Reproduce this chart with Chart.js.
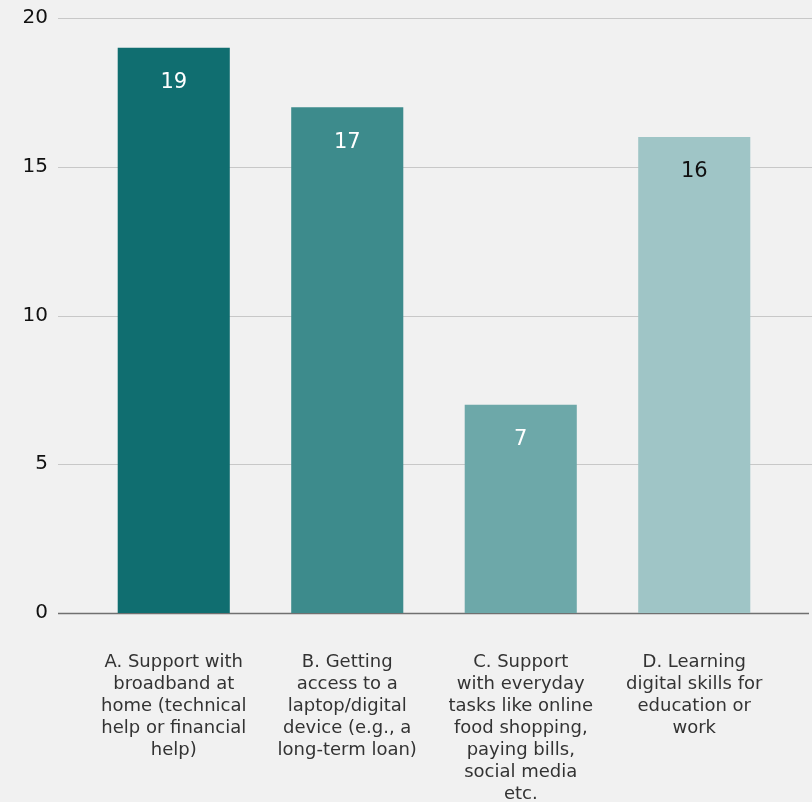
<!DOCTYPE html>
<html>
<head>
<meta charset="utf-8">
<script src="https://cdn.jsdelivr.net/npm/chart.js@4"></script>
<style>
html,body{margin:0;padding:0;background:#f1f1f1;}
#wrap{width:812px;height:802px;position:relative;}
</style>
</head>
<body>
<div id="wrap"><canvas id="c" width="812" height="802"></canvas></div>
<script>
const categories = [
  ["A. Support with","broadband at","home (technical","help or financial","help)"],
  ["B. Getting","access to a","laptop/digital","device (e.g., a","long-term loan)"],
  ["C. Support","with everyday","tasks like online","food shopping,","paying bills,","social media","etc."],
  ["D. Learning","digital skills for","education or","work"]
];
const values = [19, 17, 7, 16];
const barColors = ["#106e70", "#3d8b8c", "#6da8a9", "#9fc5c6"];
const labelColors = ["#ffffff", "#ffffff", "#ffffff", "#111111"];
const yTicks = [0, 5, 10, 15, 20];

const FONT = '"DejaVu Sans", sans-serif';

const gridPlugin = {
  id: 'extGrid',
  beforeDatasetsDraw(chart) {
    const y = chart.scales.y;
    const ctx = chart.ctx;
    ctx.save();
    yTicks.forEach(v => {
      const py = Math.round(y.getPixelForValue(v)) + 0.5;
      ctx.beginPath();
      ctx.lineWidth = v === 0 ? 1.5 : 1.2;
      ctx.strokeStyle = v === 0 ? '#707070' : '#c8c8c8';
      ctx.moveTo(58, py);
      ctx.lineTo(v === 0 ? 809 : chart.width, py);
      ctx.stroke();
    });
    ctx.restore();
  }
};

const valueLabelPlugin = {
  id: 'valueLabels',
  afterDatasetsDraw(chart) {
    const ctx = chart.ctx;
    const meta = chart.getDatasetMeta(0);
    ctx.save();
    ctx.font = '21px ' + FONT;
    ctx.textAlign = 'center';
    ctx.textBaseline = 'middle';
    meta.data.forEach((bar, i) => {
      ctx.fillStyle = labelColors[i];
      ctx.fillText(String(values[i]), bar.x, bar.y + 35);
    });
    ctx.restore();
  }
};

new Chart(document.getElementById('c'), {
  type: 'bar',
  data: {
    labels: categories,
    datasets: [{
      data: values,
      backgroundColor: barColors,
      borderWidth: 0,
      barPercentage: 0.646,
      categoryPercentage: 1
    }]
  },
  options: {
    responsive: false,
    animation: false,
    layout: { padding: { top: 0, right: 31, left: 0, bottom: 0 } },
    plugins: { legend: { display: false }, tooltip: { enabled: false } },
    scales: {
      x: {
        grid: { display: false, drawTicks: false },
        border: { display: false },
        ticks: {
          color: '#333333',
          font: { family: FONT, size: 18, lineHeight: 1.222 },
          padding: 38,
          maxRotation: 0,
          autoSkip: false
        },
        afterFit(scale) { scale.height = 189; scale.paddingLeft = 0; scale.paddingRight = 0; }
      },
      y: {
        min: 0, max: 20,
        afterBuildTicks(scale) { scale.ticks = yTicks.map(v => ({ value: v })); },
        grid: { display: false, drawTicks: false },
        border: { display: false },
        ticks: {
          color: '#111111',
          font: { family: FONT, size: 20 },
          padding: 39
        },
        afterFit(scale) { scale.width = 87; scale.paddingTop = 18; scale.paddingBottom = 0; }
      }
    }
  },
  plugins: [gridPlugin, valueLabelPlugin]
});
</script>
</body>
</html>
